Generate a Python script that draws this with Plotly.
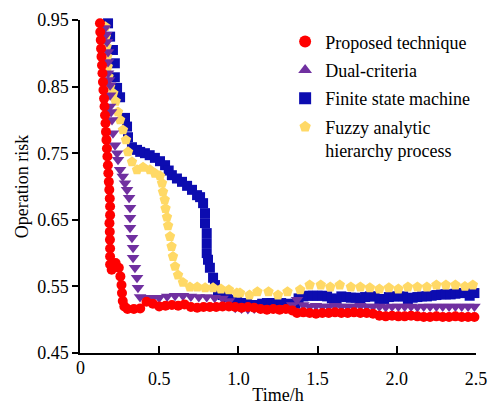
import plotly.graph_objects as go

# ---------------- data ----------------
prop_t = [0.126, 0.128, 0.131, 0.133, 0.136, 0.139, 0.142, 0.145, 0.148, 0.152, 0.155, 0.158, 0.161, 0.164,
          0.167, 0.170, 0.173, 0.176, 0.179, 0.182, 0.185, 0.188, 0.190, 0.190, 0.20, 0.225, 0.245, 0.255, 0.262,
          0.265, 0.270, 0.280, 0.300, 0.34, 0.38, 0.42, 0.46, 0.50, 0.54, 0.58, 0.62, 0.66, 0.70, 0.74, 0.78,
          0.82, 0.86, 0.90, 0.94, 0.98, 1.02, 1.06, 1.10, 1.14, 1.18, 1.22, 1.26, 1.30, 1.34, 1.37, 1.41, 1.45,
          1.49, 1.53, 1.57, 1.61, 1.65, 1.69, 1.73, 1.77, 1.81, 1.85, 1.89, 1.93, 1.97, 2.01, 2.05, 2.09, 2.13,
          2.17, 2.21, 2.25, 2.29, 2.33, 2.37, 2.41, 2.45, 2.49]
prop_v = [0.945, 0.932, 0.920, 0.907, 0.895, 0.882, 0.870, 0.857, 0.845, 0.832, 0.820, 0.807, 0.795, 0.782,
          0.770, 0.757, 0.745, 0.732, 0.720, 0.707, 0.695, 0.682, 0.670, 0.657, 0.575, 0.585, 0.578, 0.565, 0.552,
          0.540, 0.528, 0.520, 0.516, 0.516, 0.517, 0.527, 0.524, 0.520, 0.521, 0.522, 0.521, 0.523, 0.519,
          0.518, 0.519, 0.519, 0.519, 0.520, 0.520, 0.519, 0.518, 0.519, 0.518, 0.516, 0.515, 0.516, 0.515,
          0.516, 0.514, 0.510, 0.511, 0.510, 0.509, 0.510, 0.510, 0.511, 0.510, 0.510, 0.511, 0.510, 0.510,
          0.509, 0.506, 0.505, 0.506, 0.505, 0.505, 0.506, 0.505, 0.504, 0.504, 0.505, 0.504, 0.504, 0.505,
          0.504, 0.504, 0.504]
# vertical drop of the proposed technique (extra samples between 0.657 and 0.575)
prop_drop_t = [0.186, 0.188, 0.189, 0.190, 0.190, 0.190]
prop_drop_v = [0.645, 0.632, 0.620, 0.607, 0.595, 0.583]

dual_t = [0.158, 0.165, 0.170, 0.177, 0.177, 0.177, 0.183, 0.190, 0.190, 0.190, 0.196, 0.202, 0.208, 0.221,
          0.234, 0.240, 0.253, 0.270, 0.284, 0.297, 0.310, 0.316, 0.316, 0.316, 0.328, 0.335, 0.335, 0.347,
          0.360, 0.366, 0.379, 0.42, 0.46, 0.50, 0.55, 0.60, 0.65, 0.70, 0.75, 0.80, 0.85, 0.90, 0.94, 0.98,
          1.02, 1.06, 1.10, 1.14, 1.18, 1.22, 1.26, 1.30, 1.34, 1.37, 1.41, 1.45, 1.49, 1.53, 1.57, 1.61,
          1.65, 1.69, 1.73, 1.77, 1.81, 1.85, 1.89, 1.93, 1.97, 2.01, 2.05, 2.09, 2.13, 2.17, 2.21, 2.25,
          2.29, 2.33, 2.37, 2.41, 2.45, 2.49]
dual_v = [0.938, 0.928, 0.917, 0.902, 0.887, 0.870, 0.860, 0.852, 0.837, 0.820, 0.812, 0.800, 0.780, 0.762,
          0.750, 0.740, 0.725, 0.715, 0.705, 0.695, 0.683, 0.668, 0.653, 0.638, 0.623, 0.608, 0.593, 0.578,
          0.563, 0.548, 0.534, 0.533, 0.533, 0.533, 0.535, 0.536, 0.536, 0.535, 0.534, 0.534, 0.533, 0.532,
          0.528, 0.518, 0.517, 0.516, 0.517, 0.517, 0.517, 0.517, 0.517, 0.518, 0.522, 0.530, 0.522, 0.520,
          0.521, 0.520, 0.520, 0.521, 0.520, 0.520, 0.520, 0.521, 0.520, 0.520, 0.520, 0.519, 0.520, 0.520,
          0.520, 0.520, 0.519, 0.520, 0.520, 0.520, 0.520, 0.520, 0.520, 0.520, 0.520, 0.520]

fsm_t = [0.177, 0.190, 0.208, 0.220, 0.220, 0.234, 0.253, 0.284, 0.297, 0.303, 0.328, 0.360, 0.380, 0.410,
         0.440, 0.473, 0.505, 0.537, 0.560, 0.580, 0.612, 0.644, 0.676, 0.707, 0.739, 0.758, 0.777, 0.789,
         0.789, 0.800, 0.800, 0.800, 0.808, 0.820, 0.840, 0.852, 0.871, 0.900, 0.928, 0.960, 0.991, 1.02,
         1.054, 1.085, 1.117, 1.15, 1.18, 1.21, 1.24, 1.27, 1.30, 1.33, 1.36, 1.38, 1.41, 1.44, 1.47, 1.50,
         1.53, 1.56, 1.59, 1.62, 1.65, 1.68, 1.71, 1.74, 1.77, 1.80, 1.83, 1.86, 1.89, 1.92, 1.95, 1.98,
         2.01, 2.04, 2.07, 2.10, 2.13, 2.16, 2.19, 2.22, 2.25, 2.28, 2.31, 2.34, 2.37, 2.40, 2.43, 2.46, 2.49]
fsm_v = [0.945, 0.925, 0.905, 0.885, 0.864, 0.848, 0.834, 0.803, 0.790, 0.774, 0.759, 0.755, 0.752, 0.750,
         0.747, 0.743, 0.738, 0.732, 0.724, 0.717, 0.712, 0.707, 0.701, 0.695, 0.687, 0.684, 0.675, 0.660,
         0.645, 0.630, 0.615, 0.600, 0.590, 0.578, 0.563, 0.552, 0.542, 0.537, 0.534, 0.530, 0.527, 0.525,
         0.525, 0.522, 0.522, 0.524, 0.525, 0.525, 0.525, 0.525, 0.524, 0.522, 0.524, 0.532, 0.535, 0.536,
         0.536, 0.536, 0.536, 0.535, 0.532, 0.530, 0.535, 0.534, 0.533, 0.533, 0.530, 0.534, 0.535, 0.535,
         0.531, 0.531, 0.534, 0.535, 0.535, 0.535, 0.531, 0.533, 0.534, 0.535, 0.535, 0.536, 0.537, 0.538,
         0.538, 0.538, 0.539, 0.540, 0.540, 0.536, 0.540]

fahp_t = [0.160, 0.163, 0.168, 0.172, 0.175, 0.180, 0.190, 0.210, 0.225, 0.240, 0.253, 0.271, 0.290, 0.303,
          0.328, 0.360, 0.398, 0.442, 0.473, 0.505, 0.518, 0.524, 0.535, 0.540, 0.549, 0.556, 0.568, 0.578,
          0.587, 0.600, 0.619, 0.650, 0.694, 0.740, 0.790, 0.840, 0.890, 0.940, 0.990, 1.01, 1.07, 1.12,
          1.19, 1.25, 1.31, 1.39, 1.45, 1.52, 1.58, 1.64, 1.71, 1.77, 1.83, 1.89, 1.95, 2.01, 2.07, 2.13,
          2.19, 2.25, 2.31, 2.37, 2.43, 2.48]
fahp_v = [0.940, 0.925, 0.910, 0.895, 0.880, 0.865, 0.850, 0.840, 0.828, 0.812, 0.800, 0.785, 0.770, 0.752,
          0.737, 0.725, 0.729, 0.725, 0.720, 0.716, 0.705, 0.692, 0.680, 0.667, 0.654, 0.641, 0.625, 0.610,
          0.595, 0.580, 0.567, 0.556, 0.549, 0.549, 0.548, 0.548, 0.546, 0.545, 0.540, 0.540, 0.537, 0.542,
          0.542, 0.537, 0.542, 0.545, 0.552, 0.552, 0.549, 0.552, 0.549, 0.549, 0.548, 0.546, 0.548, 0.546,
          0.549, 0.549, 0.549, 0.552, 0.552, 0.552, 0.550, 0.552]

names = ["Proposed technique", "Dual-criteria", "Finite state machine", "Fuzzy analytic<br>hierarchy process"]
colors = ["#ff0000", "#7030a0", "#0c0cb0", "#ffd966"]
legend_symbols = ["circle", "triangle-up", "square", "pentagon"]
x_ticks = [0.5, 1.0, 1.5, 2.0, 2.5]
x_ticktext = ["0.5", "1.0", "1.5", "2.0", "2.5"]
y_ticks = [0.45, 0.55, 0.65, 0.75, 0.85, 0.95]

FONT = "Times New Roman, Liberation Serif, DejaVu Serif, serif"
FS = 18

fig = go.Figure()

# draw order: FSM, FAHP, Dual, Proposed (top)
fig.add_trace(go.Scatter(x=fsm_t, y=fsm_v, mode="markers", showlegend=False, cliponaxis=False,
                         marker=dict(symbol="square", size=10, color=colors[2])))
fig.add_trace(go.Scatter(x=fahp_t, y=fahp_v, mode="markers", showlegend=False, cliponaxis=False,
                         marker=dict(symbol="pentagon", size=11, color=colors[3])))
fig.add_trace(go.Scatter(x=dual_t, y=dual_v, mode="markers", showlegend=False, cliponaxis=False,
                         marker=dict(symbol="triangle-down", size=11, color=colors[1])))
fig.add_trace(go.Scatter(x=prop_t + prop_drop_t, y=prop_v + prop_drop_v, mode="markers", showlegend=False,
                         cliponaxis=False, marker=dict(symbol="circle", size=10, color=colors[0])))

# legend entries
for i, (n, c, s) in enumerate(zip(names, colors, legend_symbols)):
    fig.add_trace(go.Scatter(x=[None], y=[None], mode="markers", name=n, legendgroup="g%d" % i,
                             marker=dict(symbol=s, size=10, color=c)))

fig.update_layout(
    width=492, height=405,
    margin=dict(l=80, r=16, t=20, b=52),
    plot_bgcolor="white", paper_bgcolor="white",
    font=dict(family=FONT, size=FS, color="black"),
    legend=dict(x=0.518, y=0.99, xanchor="left", yanchor="top", bgcolor="rgba(0,0,0,0)",
                font=dict(family=FONT, size=FS, color="black"), valign="top",
                traceorder="grouped", tracegroupgap=2, itemsizing="constant"),
    showlegend=True,
)
fig.update_xaxes(range=[0, 2.5], tickvals=x_ticks, ticktext=x_ticktext, showgrid=False, zeroline=False,
                 showline=True, linecolor="black", linewidth=1.5, ticks="inside", ticklen=7,
                 tickcolor="black", tickwidth=1.5, ticklabelstandoff=9, automargin=False,
                 title=dict(text="Time/h", standoff=0, font=dict(family=FONT, size=FS)))
fig.update_yaxes(range=[0.45, 0.95], tickvals=y_ticks, tickformat=".2f", showgrid=False, zeroline=False,
                 showline=True, linecolor="black", linewidth=1.5, ticks="outside", ticklen=6,
                 tickcolor="black", tickwidth=1.5, automargin=False,
                 title=dict(text="Operation risk", standoff=4, font=dict(family=FONT, size=FS)))
fig.add_annotation(x=0, xref="x", y=0, yref="paper", yanchor="top", yshift=-3, text="0",
                   showarrow=False, font=dict(family=FONT, size=FS, color="black"))

fig.write_html("out.html", config={"displayModeBar": False},
               post_script="document.body.style.margin='0';document.body.style.overflow='hidden';")
